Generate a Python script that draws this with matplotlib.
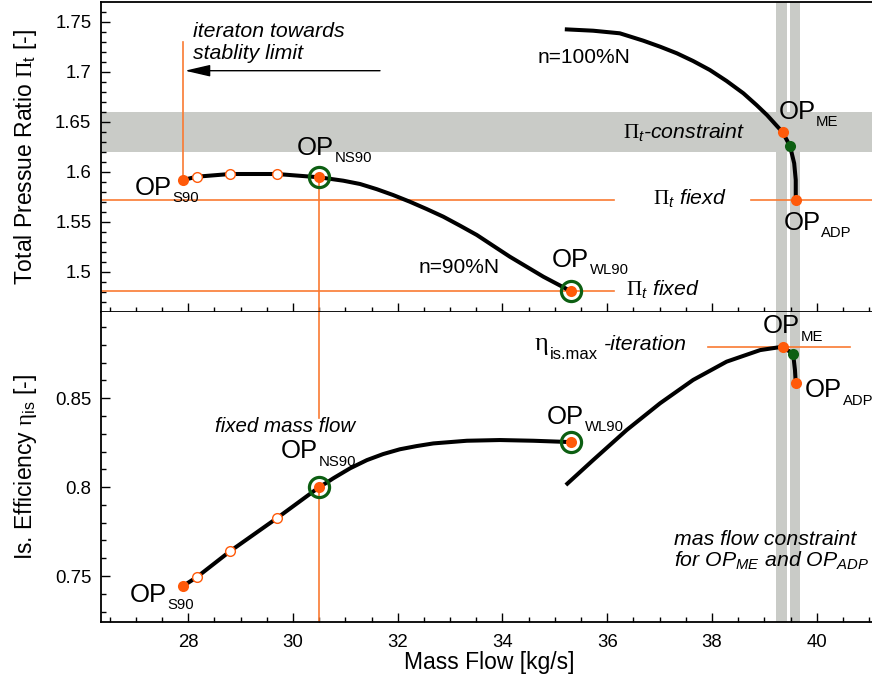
import matplotlib
matplotlib.use("Agg")
import matplotlib.pyplot as plt
from matplotlib.ticker import MultipleLocator, FuncFormatter

plt.rcParams["font.family"] = ["Liberation Sans", "DejaVu Sans"]
plt.rcParams["mathtext.fontset"] = "custom"
plt.rcParams["mathtext.rm"] = "Liberation Sans"
plt.rcParams["mathtext.it"] = "Liberation Sans:italic"
plt.rcParams["mathtext.bf"] = "Liberation Sans:bold"
plt.rcParams["mathtext.sf"] = "Liberation Serif"

# ---------------- data ----------------
# 90 % speed line: pressure ratio
n90_mass_pr = [27.9, 28.16, 28.8, 29.69, 30.5, 30.96, 31.28, 31.6, 31.91, 32.23, 32.55,
               32.87, 33.19, 33.51, 33.82, 34.14, 34.46, 34.78, 35.16, 35.3]
n90_pr = [1.5917, 1.595, 1.5977, 1.5977, 1.5944, 1.591, 1.5877, 1.5825, 1.5767, 1.570,
          1.5627, 1.555, 1.546, 1.5367, 1.526, 1.515, 1.505, 1.495, 1.4845, 1.4807]
# 90 % speed line: isentropic efficiency
n90_mass_eta = [27.9, 28.16, 28.8, 29.69, 30.5, 30.64, 30.77, 31.09, 31.41, 31.72, 32.04,
                32.36, 32.68, 33.32, 33.95, 34.59, 35.16, 35.3]
n90_eta = [0.7444, 0.7493, 0.764, 0.7825, 0.80, 0.8025, 0.805, 0.8106, 0.8152, 0.8186,
           0.8213, 0.8231, 0.8246, 0.8261, 0.8265, 0.8261, 0.8255, 0.8253]
# 100 % speed line
n100_mass_pr = [35.19, 35.73, 36.24, 36.69, 37.01, 37.33, 37.64, 37.96, 38.28, 38.60,
                38.85, 39.05, 39.35, 39.49, 39.57, 39.60, 39.60]
n100_pr = [1.7424, 1.741, 1.7384, 1.731, 1.725, 1.7184, 1.7107, 1.7017, 1.6907, 1.6784,
           1.6667, 1.6567, 1.6394, 1.6257, 1.6084, 1.5917, 1.5717]
n100_mass_eta = [35.21, 35.73, 36.37, 37.01, 37.64, 38.28, 38.92, 39.35, 39.55, 39.585, 39.60]
n100_eta = [0.8012, 0.8152, 0.8321, 0.8472, 0.8603, 0.8706, 0.8771, 0.8790, 0.8749, 0.8659, 0.8584]

# iteration steps towards the stability limit
iter_mass = [28.16, 28.8, 29.69]
iter_pr = [1.595, 1.5977, 1.5977]
iter_eta = [0.7493, 0.764, 0.7825]

# operating points: S90, NS90, WL90, ME, ADP
op_names = ["S90", "NS90", "WL90", "ME", "ADP"]
op_mass = [27.9, 30.5, 35.3, 39.35, 39.60]
op_pr = [1.5917, 1.5944, 1.4807, 1.6394, 1.5717]
op_eta = [0.7444, 0.80, 0.8253, 0.8790, 0.8584]
# converged points (green rings)
ring_mass = [30.5, 35.3]
ring_pr = [1.5944, 1.4807]
ring_eta = [0.80, 0.8253]
# intermediate point between ME and ADP
mid_mass_pr, mid_pr = 39.49, 1.6257
mid_mass_eta, mid_eta = 39.55, 0.8749

# constraints
pr_band = (1.62, 1.66)
mass_bands = [(39.22, 39.44), (39.49, 39.69)]
pr_fixed_adp = 1.5717
pr_fixed_wl = 1.4807
eta_max = 0.8787

xlim = (26.333, 41.056)
ylim_pr = (1.46, 1.7697)
ylim_eta = (0.7243, 0.8987)

# ---------------- style ----------------
ORANGE = "#ff5a0a"
ORANGE_LINE = "#fa7a32"
GREEN = "#0d5f12"
GRAY = "#c9cbc7"

fig = plt.figure(figsize=(8.72, 6.79), dpi=100)
W, H = 872.0, 679.0
left = 101 / W
width = 1.0 - left
ax1 = fig.add_axes([left, 1 - 311.7 / H, width, (311.7 - 2) / H])
ax2 = fig.add_axes([left, 1 - 621.7 / H, width, 310.0 / H])

fmt = FuncFormatter(lambda v, p: "%g" % round(v, 4))
for ax in (ax1, ax2):
    ax.set_xlim(*xlim)
    ax.xaxis.set_major_locator(MultipleLocator(2))
    ax.xaxis.set_minor_locator(MultipleLocator(0.5))
    ax.yaxis.set_major_locator(MultipleLocator(0.05))
    ax.yaxis.set_minor_locator(MultipleLocator(0.01))
    ax.yaxis.set_major_formatter(fmt)
    ax.tick_params(which="both", direction="in", top=False, right=False, width=1.0)
    ax.tick_params(which="major", length=6.5, labelsize=13.4, pad=7)
    ax.tick_params(which="minor", length=3.6)
    ax.spines["right"].set_visible(False)
    for s in ("left", "bottom", "top"):
        ax.spines[s].set_linewidth(1.3)
    for a, b in mass_bands:
        ax.axvspan(a, b, color=GRAY, lw=0, zorder=0)

ax1.set_ylim(*ylim_pr)
ax2.set_ylim(*ylim_eta)
ax1.tick_params(axis="x", labelbottom=False)
ax2.spines["top"].set_visible(False)
ax2.tick_params(axis="x", pad=9)

ax1.set_ylabel(r"Total Pressue Ratio $\mathsf{\Pi}_\mathrm{t}$ [-]", fontsize=16.5)
ax2.set_ylabel(r"Is. Efficiency $\mathsf{\eta}_\mathrm{is}$ [-]", fontsize=16.5)
ax1.yaxis.set_label_coords(-0.080, 0.5)
ax2.yaxis.set_label_coords(-0.080, 0.5)
ax2.set_xlabel("Mass Flow [kg/s]", fontsize=16.5)
ax2.xaxis.set_label_coords(0.503, -0.093)

# ---------------- top panel ----------------
ax1.axhspan(*pr_band, color=GRAY, lw=0, zorder=0)
lw_o = 1.2
ax1.plot([op_mass[0], op_mass[0]], [op_pr[0], 1.7294], color=ORANGE_LINE, lw=lw_o, zorder=2)
ax1.plot([xlim[0], 36.134], [pr_fixed_adp] * 2, color=ORANGE_LINE, lw=lw_o, zorder=2)
ax1.plot([38.745, xlim[1]], [pr_fixed_adp] * 2, color=ORANGE_LINE, lw=lw_o, zorder=2)
ax1.plot([xlim[0], 36.134], [pr_fixed_wl] * 2, color=ORANGE_LINE, lw=lw_o, zorder=2)
ax1.plot([op_mass[1]] * 2, [ylim_pr[0], op_pr[1]], color=ORANGE_LINE, lw=lw_o, zorder=2)

ax1.plot(n90_mass_pr, n90_pr, color="black", lw=2.9, zorder=3, solid_capstyle="butt")
ax1.plot(n100_mass_pr, n100_pr, color="black", lw=2.9, zorder=3, solid_capstyle="butt")
ax1.plot(iter_mass, iter_pr, "o", ms=7, mfc="white", mec=ORANGE, mew=1.0, zorder=4)
ax1.plot(ring_mass, ring_pr, "o", ms=14.5, mfc="none", mec=GREEN, mew=2.3, zorder=4)
ax1.plot(op_mass, op_pr, "o", ms=8, color=ORANGE, mew=0, zorder=5)
ax1.plot([mid_mass_pr], [mid_pr], "o", ms=8, color=GREEN, mew=0, zorder=5)

# ---------------- bottom panel ----------------
ax2.plot([op_mass[1]] * 2, [0.8389, ylim_eta[1]], color=ORANGE_LINE, lw=lw_o, zorder=2)
ax2.plot([op_mass[1]] * 2, [ylim_eta[0], op_eta[1]], color=ORANGE_LINE, lw=lw_o, zorder=2)
ax2.plot([37.929, 40.635], [eta_max] * 2, color=ORANGE_LINE, lw=lw_o, zorder=2)

ax2.plot(n90_mass_eta, n90_eta, color="black", lw=2.9, zorder=3, solid_capstyle="butt")
ax2.plot(n100_mass_eta, n100_eta, color="black", lw=2.9, zorder=3, solid_capstyle="butt")
ax2.plot(iter_mass, iter_eta, "o", ms=7, mfc="white", mec=ORANGE, mew=1.0, zorder=4)
ax2.plot(ring_mass, ring_eta, "o", ms=14.5, mfc="none", mec=GREEN, mew=2.3, zorder=4)
ax2.plot(op_mass, op_eta, "o", ms=8, color=ORANGE, mew=0, zorder=5)
ax2.plot([mid_mass_eta], [mid_eta], "o", ms=8, color=GREEN, mew=0, zorder=5)


# ---------------- labels ----------------
def with_sub(ax, x, y, main, sub, size=18.5, subsize=10.7, drop=-1.6, **kw):
    t = ax.text(x, y, main, fontsize=size, ha="left", va="baseline", zorder=6, **kw)
    ax.annotate(sub, xy=(1, 0), xycoords=t, xytext=(0.6, drop),
                textcoords="offset points", fontsize=subsize, ha="left", va="baseline",
                zorder=6)
    return t


with_sub(ax1, 26.969, 1.5767, "OP", "S90")
with_sub(ax1, 30.07, 1.6167, "OP", "NS90")
with_sub(ax1, 34.939, 1.505, "OP", "WL90")
with_sub(ax1, 39.266, 1.6527, "OP", "ME")
with_sub(ax1, 39.362, 1.5417, "OP", "ADP")

with_sub(ax2, 26.873, 0.7355, "OP", "S90")
with_sub(ax2, 29.764, 0.8162, "OP", "NS90")
with_sub(ax2, 34.844, 0.8355, "OP", "WL90")
with_sub(ax2, 38.968, 0.8865, "OP", "ME")
with_sub(ax2, 39.776, 0.8505, "OP", "ADP")

ax1.text(28.096, 1.7344, "iteraton towards", fontsize=15.3, style="italic", va="baseline")
ax1.text(28.096, 1.7127, "stablity limit", fontsize=15.3, style="italic", va="baseline")
ax1.annotate("", xy=(27.937, 1.701), xytext=(31.661, 1.701),
             arrowprops=dict(arrowstyle="-|>,head_length=1.55,head_width=0.36",
                             color="black", lw=1.0, mutation_scale=10,
                             shrinkA=0, shrinkB=0))

ax1.text(34.664, 1.7090, "n=100%N", fontsize=15, va="baseline")
ax1.text(32.405, 1.4984, "n=90%N", fontsize=15, va="baseline")
ax1.text(38.63, 1.6334, r"$\mathsf{\Pi}_{\mathit{t}}$-constraint", fontsize=15.3,
         style="italic", ha="right", va="baseline")
ax1.text(37.571, 1.5667, r"$\mathsf{\Pi}_{\mathit{t}}$ fiexd", fontsize=15.3,
         style="italic", ha="center", va="baseline")
ax1.text(36.352, 1.4757, r"$\mathsf{\Pi}_{\mathit{t}}$ fixed", fontsize=15.3,
         style="italic", ha="left", va="baseline")

ax2.text(29.856, 0.8312, "fixed mass flow", fontsize=14.8, style="italic",
         ha="center", va="baseline")
with_sub(ax2, 34.62, 0.8771, "η", "is.max", size=19, subsize=12, drop=-3.0,
         family="Liberation Serif")
ax2.text(37.53, 0.8771, "-iteration", fontsize=15.3, style="italic", ha="right", va="baseline")
ax2.text(37.274, 0.7674, "mas flow constraint", fontsize=15.3, style="italic", va="baseline")
ax2.text(37.274, 0.7552, r"for OP$_{\mathit{ME}}$ and OP$_{\mathit{ADP}}$", fontsize=15.3,
         style="italic", va="baseline")

fig.savefig("out.png", dpi=100)
